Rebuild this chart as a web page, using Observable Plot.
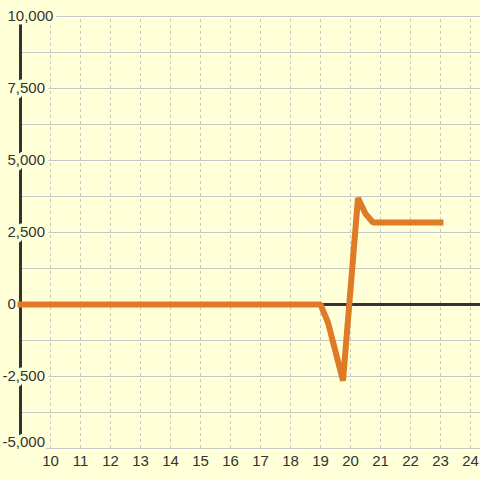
<!DOCTYPE html>
<html>
<head>
<meta charset="utf-8">
<script src="https://cdn.jsdelivr.net/npm/d3@7"></script>
<script src="https://cdn.jsdelivr.net/npm/@observablehq/plot@0.6"></script>
<style>
  html, body { margin: 0; padding: 0; background: #ffffd8; }
</style>
</head>
<body>
<div id="chart"></div>
<script>
const xValues = [9, 10, 11, 12, 13, 14, 15, 16, 17, 18, 19, 19.25, 19.75, 20.25, 20.5, 20.75, 23];
const yValues = [0, 0, 0, 0, 0, 0, 0, 0, 0, 0, 0, -625, -2650, 3700, 3150, 2850, 2850];
const xTicks = [10, 11, 12, 13, 14, 15, 16, 17, 18, 19, 20, 21, 22, 23, 24];
const yTicks = [-5000, -2500, 0, 2500, 5000, 7500, 10000];
const yGrid = [-5000, -3750, -2500, -1250, 0, 1250, 2500, 3750, 5000, 6250, 7500, 8750, 10000];

const bg = "#ffffd8";
const data = xValues.map((x, i) => ({x, y: yValues[i]}));
const fmt = v => d3.format(",")(v).replace("\u2212", "-");
const labelOpts = {fill: "#333", stroke: bg, strokeWidth: 7, paintOrder: "stroke", fontSize: 15, textAnchor: "start"};

const chart = Plot.plot({
  width: 480,
  height: 480,
  marginTop: 16,
  marginBottom: 32,
  marginLeft: 20,
  marginRight: 0,
  x: {domain: [9, 24 + 1/3], axis: null},
  y: {domain: [-5000, 10000], axis: null},
  style: {background: bg, fontFamily: "'Liberation Sans', Arial, sans-serif", fontSize: "15px", color: "#333"},
  marks: [
    Plot.ruleY(yGrid, {stroke: "#c8c8c8", strokeWidth: 1}),
    Plot.ruleX(xTicks, {y1: -5000, y2: 10000, stroke: "#c8c8c8", strokeWidth: 1, strokeDasharray: "3,3"}),
    Plot.ruleX([9], {y1: -5000, y2: 10000, stroke: "#333", strokeWidth: 3}),
    Plot.ruleY([0], {stroke: "#333", strokeWidth: 3}),
    Plot.text(yTicks.filter(v => v >= 0), {x: 9, y: d => d, text: d => fmt(d), dx: -13, ...labelOpts}),
    Plot.text(yTicks.filter(v => v < 0 && v > -5000), {x: 9, y: d => d, text: d => fmt(d), dx: -18, ...labelOpts}),
    Plot.text(yTicks.filter(v => v <= -5000), {x: 9, y: d => d, text: d => fmt(d), dx: -18, dy: -6, ...labelOpts}),
    Plot.axisX(xTicks, {tickSize: 0, tickPadding: 7, fontSize: 15, fill: "#333", label: null}),
    Plot.line(data, {x: "x", y: "y", stroke: "#df7a26", strokeWidth: 6, strokeLinecap: "square", strokeLinejoin: "miter"})
  ]
});
document.getElementById("chart").appendChild(chart);
</script>
</body>
</html>
